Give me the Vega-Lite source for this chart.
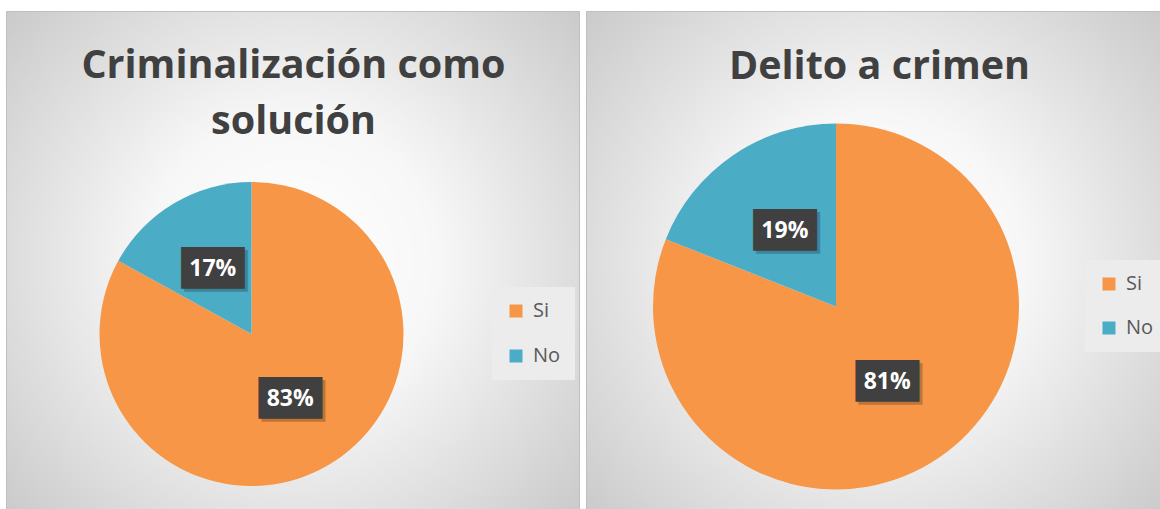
{
  "$schema": "https://vega.github.io/schema/vega-lite/v6.json",
  "background": "#ffffff",
  "padding": {"left": 5, "top": 10, "right": 0, "bottom": 0},
  "spacing": 5,
  "data": {
    "values": [
      {"grafico": "Criminalización como solución", "respuesta": "Si", "porcentaje": 0.83},
      {"grafico": "Criminalización como solución", "respuesta": "No", "porcentaje": 0.17},
      {"grafico": "Delito a crimen", "respuesta": "Si", "porcentaje": 0.81},
      {"grafico": "Delito a crimen", "respuesta": "No", "porcentaje": 0.19}
    ]
  },
  "resolve": {"scale": {"color": "independent", "theta": "independent"}, "legend": {"color": "independent"}},
  "hconcat": [
    {
      "width": 573,
      "height": 500,
      "view": {
        "stroke": "#bfbfbf",
        "fill": {
          "gradient": "radial", "x1": 0.5, "y1": 0.5, "r1": 0, "x2": 0.5, "y2": 0.5, "r2": 0.72,
          "stops": [
            {"offset": 0, "color": "#ffffff"},
            {"offset": 0.35, "color": "#f7f7f7"},
            {"offset": 1, "color": "#c4c4c4"}
          ]
        }
      },
      "transform": [{"filter": "datum.grafico === 'Criminalización como solución'"}],
      "title": {"text": ["Criminalización como", "solución"], "offset": -131, "dx": 1, "lineHeight": 56},
      "encoding": {
        "theta": {"field": "porcentaje", "type": "quantitative", "stack": true},
        "order": {"field": "respuesta", "sort": "descending"},
        "detail": {"field": "respuesta"}
      },
      "layer": [
        {
          "mark": {"type": "arc", "outerRadius": 152, "x": 245.5, "y": 323},
          "encoding": {
            "color": {
              "field": "respuesta", "type": "nominal",
              "scale": {"domain": ["Si", "No"], "range": ["#F79646", "#4BACC6"]},
              "legend": {"title": null, "orient": "none", "legendX": 486, "legendY": 276, "rowPadding": 25, "padding": 14, "fillColor": "#ececec"}
            }
          }
        },
        {
          "mark": {"type": "text", "radius": 76, "x": 245.5, "y": 323, "dx": 3, "dy": 3, "font": "DejaVu Sans Mono", "fontSize": 35, "color": "#000000", "opacity": 0.22, "baseline": "middle"},
          "encoding": {"text": {"value": "███"}}
        },
        {
          "mark": {"type": "text", "radius": 76, "x": 245.5, "y": 323, "font": "DejaVu Sans Mono", "fontSize": 35, "color": "#404040", "baseline": "middle"},
          "encoding": {"text": {"value": "███"}}
        },
        {
          "mark": {"type": "text", "radius": 76, "x": 245.5, "y": 323, "font": "Open Sans", "fontWeight": "bold", "fontSize": 23, "color": "#ffffff", "baseline": "middle"},
          "encoding": {"text": {"field": "porcentaje", "type": "quantitative", "format": ".0%"}}
        }
      ]
    },
    {
      "width": 577,
      "height": 500,
      "view": {
        "stroke": "#bfbfbf",
        "fill": {
          "gradient": "radial", "x1": 0.5, "y1": 0.5, "r1": 0, "x2": 0.5, "y2": 0.5, "r2": 0.72,
          "stops": [
            {"offset": 0, "color": "#ffffff"},
            {"offset": 0.35, "color": "#f7f7f7"},
            {"offset": 1, "color": "#c4c4c4"}
          ]
        }
      },
      "transform": [{"filter": "datum.grafico === 'Delito a crimen'"}],
      "title": {"text": "Delito a crimen", "offset": -76, "dx": 5},
      "encoding": {
        "theta": {"field": "porcentaje", "type": "quantitative", "stack": true},
        "order": {"field": "respuesta", "sort": "descending"},
        "detail": {"field": "respuesta"}
      },
      "layer": [
        {
          "mark": {"type": "arc", "outerRadius": 183, "x": 250, "y": 295.5},
          "encoding": {
            "color": {
              "field": "respuesta", "type": "nominal",
              "scale": {"domain": ["Si", "No"], "range": ["#F79646", "#4BACC6"]},
              "legend": {"title": null, "orient": "none", "legendX": 499, "legendY": 249, "rowPadding": 24, "padding": 14, "fillColor": "#ececec"}
            }
          }
        },
        {
          "mark": {"type": "text", "radius": 91, "x": 250, "y": 295.5, "dx": 3, "dy": 3, "font": "DejaVu Sans Mono", "fontSize": 35, "color": "#000000", "opacity": 0.22, "baseline": "middle"},
          "encoding": {"text": {"value": "███"}}
        },
        {
          "mark": {"type": "text", "radius": 91, "x": 250, "y": 295.5, "font": "DejaVu Sans Mono", "fontSize": 35, "color": "#404040", "baseline": "middle"},
          "encoding": {"text": {"value": "███"}}
        },
        {
          "mark": {"type": "text", "radius": 91, "x": 250, "y": 295.5, "font": "Open Sans", "fontWeight": "bold", "fontSize": 23, "color": "#ffffff", "baseline": "middle"},
          "encoding": {"text": {"field": "porcentaje", "type": "quantitative", "format": ".0%"}}
        }
      ]
    }
  ],
  "config": {
    "font": "Open Sans",
    "title": {"font": "Open Sans", "fontWeight": "bold", "fontSize": 39.5, "color": "#404040", "anchor": "middle"},
    "legend": {
      "symbolType": "square", "symbolSize": 169, "symbolStrokeWidth": 0, "labelFont": "Open Sans",
      "labelFontSize": 20, "labelColor": "#595959", "labelOffset": 7, "direction": "vertical"
    }
  }
}
